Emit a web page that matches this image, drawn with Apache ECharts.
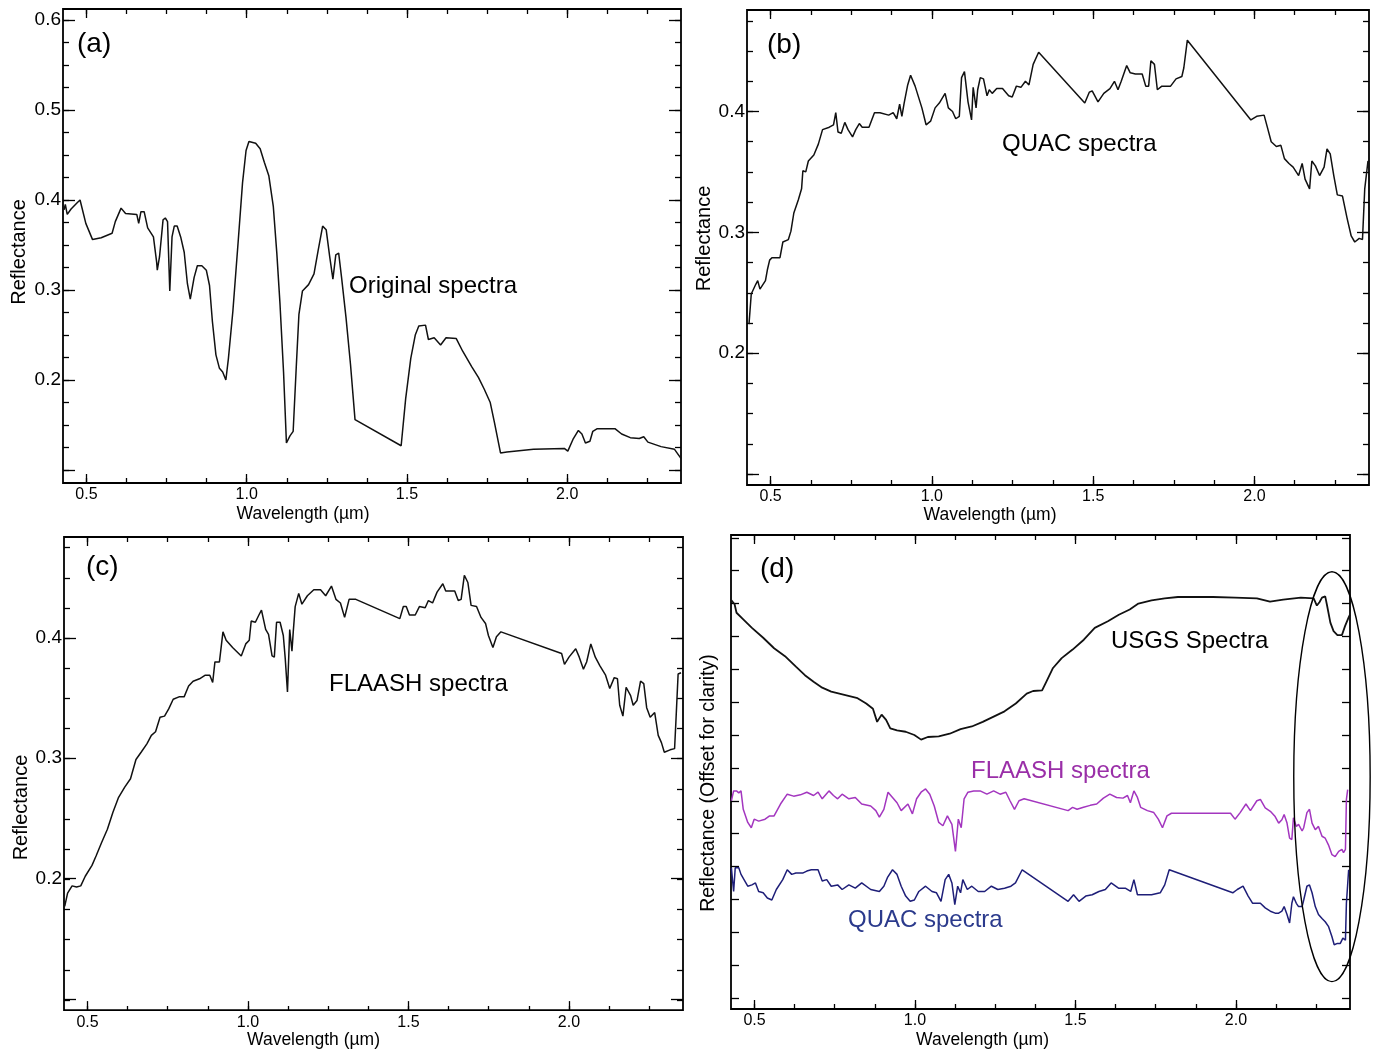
<!DOCTYPE html>
<html>
<head>
<meta charset="utf-8">
<title>Reflectance spectra</title>
<script src="https://cdn.jsdelivr.net/npm/echarts@6/dist/echarts.min.js"></script>
<style>
  html, body { margin: 0; padding: 0; background: #fff; }
  #chart { width: 1373px; height: 1050px; }
</style>
</head>
<body>
<div id="chart"></div>
<script>
// ---------- spectra (wavelength in µm, reflectance) ----------
const origWl = [
  0.430,0.434,0.440,0.452,0.471,0.480,0.498,0.519,0.546,0.580,
  0.590,0.608,0.622,0.657,0.663,0.670,0.680,0.691,0.709,0.719,
  0.721,0.728,0.739,0.746,0.753,0.760,0.767,0.774,0.783,0.794,
  0.805,0.815,0.824,0.836,0.846,0.860,0.874,0.884,0.893,0.904,
  0.915,0.925,0.935,0.943,0.957,0.973,0.987,0.998,1.007,1.028,
  1.042,1.055,1.069,1.083,1.094,1.104,1.115,1.124,1.135,1.145,
  1.155,1.163,1.174,1.193,1.210,1.223,1.237,1.248,1.259,1.269,
  1.278,1.287,1.296,1.310,1.324,1.338,1.482,1.496,1.512,1.526,
  1.537,1.558,1.567,1.585,1.605,1.622,1.654,1.674,1.702,1.723,
  1.741,1.760,1.773,1.792,1.812,1.895,1.991,2.002,2.018,2.035,
  2.046,2.057,2.071,2.080,2.094,2.149,2.170,2.197,2.225,2.239,
  2.252,2.293,2.335,2.355];
const origRefl = [
  0.389,0.395,0.384,0.390,0.397,0.400,0.374,0.356,0.358,0.363,
  0.376,0.391,0.385,0.384,0.374,0.387,0.387,0.369,0.359,0.331,
  0.322,0.337,0.378,0.380,0.376,0.299,0.359,0.371,0.371,0.359,
  0.342,0.307,0.290,0.314,0.327,0.327,0.322,0.305,0.265,0.228,
  0.213,0.209,0.200,0.224,0.277,0.352,0.419,0.455,0.465,0.463,
  0.457,0.442,0.427,0.393,0.341,0.284,0.209,0.130,0.138,0.143,
  0.217,0.273,0.299,0.306,0.318,0.344,0.371,0.367,0.337,0.312,
  0.339,0.341,0.314,0.269,0.217,0.156,0.127,0.179,0.224,0.250,
  0.260,0.261,0.245,0.247,0.239,0.247,0.246,0.232,0.215,0.203,
  0.190,0.175,0.153,0.119,0.120,0.123,0.124,0.121,0.134,0.144,
  0.140,0.130,0.132,0.143,0.146,0.146,0.140,0.136,0.135,0.137,
  0.131,0.126,0.123,0.113];

const quacWl = [
  0.433,0.440,0.446,0.454,0.460,0.467,0.484,0.490,0.497,0.504,
  0.529,0.538,0.555,0.563,0.572,0.586,0.596,0.600,0.609,0.617,
  0.634,0.648,0.661,0.682,0.695,0.702,0.709,0.719,0.730,0.740,
  0.754,0.764,0.775,0.784,0.805,0.822,0.839,0.866,0.880,0.891,
  0.900,0.907,0.914,0.925,0.934,0.948,0.969,0.982,0.996,1.010,
  1.023,1.041,1.051,1.064,1.074,1.085,1.092,1.101,1.112,1.123,
  1.128,1.137,1.142,1.150,1.160,1.171,1.178,1.187,1.201,1.219,
  1.238,1.249,1.262,1.276,1.290,1.301,1.314,1.331,1.337,1.474,
  1.488,1.497,1.515,1.533,1.552,1.566,1.577,1.587,1.604,1.615,
  1.631,1.652,1.663,1.672,1.679,1.690,1.699,1.713,1.740,1.757,
  1.775,1.781,1.792,1.989,2.007,2.030,2.041,2.052,2.068,2.082,
  2.093,2.107,2.120,2.137,2.148,2.157,2.171,2.178,2.189,2.202,
  2.216,2.225,2.235,2.246,2.257,2.273,2.287,2.300,2.311,2.325,
  2.335,2.342,2.352,2.355];
const quacRefl = [
  0.224,0.249,0.249,0.257,0.260,0.253,0.260,0.269,0.277,0.279,
  0.279,0.292,0.294,0.301,0.316,0.327,0.336,0.351,0.350,0.359,
  0.364,0.373,0.385,0.387,0.389,0.399,0.383,0.382,0.391,0.385,
  0.379,0.385,0.390,0.387,0.387,0.399,0.399,0.397,0.399,0.394,
  0.406,0.396,0.407,0.422,0.430,0.421,0.403,0.389,0.392,0.403,
  0.407,0.415,0.403,0.400,0.394,0.396,0.428,0.433,0.408,0.393,
  0.420,0.403,0.418,0.428,0.427,0.413,0.418,0.415,0.419,0.419,
  0.413,0.412,0.421,0.420,0.425,0.422,0.439,0.449,0.450,0.407,
  0.416,0.417,0.408,0.415,0.419,0.425,0.418,0.425,0.438,0.432,
  0.431,0.431,0.421,0.421,0.442,0.439,0.418,0.421,0.421,0.427,
  0.429,0.436,0.459,0.393,0.396,0.397,0.386,0.375,0.371,0.372,
  0.361,0.357,0.354,0.347,0.357,0.344,0.336,0.359,0.355,0.347,
  0.354,0.369,0.365,0.347,0.331,0.330,0.312,0.297,0.292,0.295,
  0.294,0.336,0.359,0.358];

const flaashWl = [
  0.429,0.438,0.452,0.466,0.479,0.493,0.514,0.527,0.544,0.562,
  0.579,0.596,0.616,0.634,0.651,0.667,0.685,0.699,0.712,0.726,
  0.740,0.753,0.767,0.785,0.801,0.815,0.829,0.849,0.867,0.881,
  0.890,0.897,0.911,0.922,0.932,0.952,0.979,0.993,1.004,1.010,
  1.023,1.034,1.042,1.055,1.064,1.075,1.082,1.089,1.100,1.110,
  1.116,1.123,1.130,1.137,1.141,1.147,1.158,1.168,1.185,1.205,
  1.226,1.242,1.260,1.274,1.288,1.301,1.315,1.336,1.473,1.484,
  1.493,1.503,1.521,1.534,1.552,1.562,1.575,1.589,1.607,1.616,
  1.644,1.655,1.664,1.674,1.685,1.695,1.712,1.726,1.740,1.749,
  1.763,1.774,1.788,1.977,1.986,2.000,2.021,2.032,2.045,2.055,
  2.068,2.082,2.096,2.114,2.127,2.141,2.151,2.158,2.168,2.178,
  2.192,2.200,2.212,2.223,2.233,2.242,2.253,2.267,2.278,2.288,
  2.297,2.315,2.329,2.333,2.340,2.349];
const flaashRefl = [
  0.177,0.188,0.194,0.193,0.194,0.202,0.211,0.219,0.230,0.241,
  0.255,0.267,0.276,0.283,0.299,0.305,0.312,0.319,0.322,0.334,
  0.335,0.341,0.349,0.351,0.351,0.360,0.364,0.366,0.369,0.369,
  0.363,0.380,0.380,0.405,0.398,0.392,0.385,0.395,0.398,0.414,
  0.413,0.419,0.423,0.407,0.403,0.385,0.384,0.413,0.413,0.402,
  0.383,0.355,0.407,0.389,0.405,0.426,0.437,0.428,0.435,0.440,
  0.440,0.435,0.443,0.432,0.429,0.417,0.432,0.432,0.416,0.426,
  0.426,0.419,0.419,0.426,0.425,0.431,0.429,0.438,0.445,0.439,
  0.439,0.431,0.432,0.452,0.446,0.427,0.426,0.417,0.412,0.402,
  0.392,0.401,0.405,0.387,0.378,0.384,0.391,0.384,0.374,0.380,
  0.395,0.384,0.377,0.369,0.358,0.367,0.366,0.344,0.335,0.359,
  0.352,0.344,0.348,0.364,0.362,0.342,0.334,0.338,0.319,0.313,
  0.305,0.307,0.308,0.330,0.370,0.371];

// offset reflectance for the comparison panel
const usgsWl = [
  0.428,0.438,0.444,0.465,0.492,0.527,0.561,0.595,0.629,0.657,
  0.684,0.711,0.739,0.780,0.821,0.848,0.869,0.882,0.896,0.910,
  0.923,0.944,0.971,0.998,1.019,1.040,1.074,1.108,1.142,1.177,
  1.211,1.245,1.279,1.314,1.348,1.368,1.396,1.409,1.430,1.457,
  1.491,1.526,1.560,1.601,1.635,1.669,1.696,1.737,1.778,1.819,
  1.874,1.928,1.997,2.065,2.106,2.147,2.202,2.242,2.252,2.260,
  2.268,2.278,2.283,2.294,2.304,2.316,2.330,2.340,2.351,2.355];
const usgsOffset = [
  0.705,0.699,0.686,0.676,0.663,0.648,0.632,0.620,0.604,0.591,
  0.581,0.572,0.566,0.561,0.556,0.548,0.540,0.520,0.531,0.523,
  0.510,0.507,0.505,0.500,0.493,0.497,0.498,0.502,0.509,0.513,
  0.520,0.528,0.536,0.548,0.563,0.567,0.568,0.581,0.602,0.617,
  0.630,0.645,0.663,0.673,0.683,0.691,0.700,0.705,0.708,0.710,
  0.710,0.710,0.709,0.708,0.703,0.706,0.709,0.708,0.697,0.702,
  0.709,0.711,0.699,0.671,0.658,0.652,0.652,0.666,0.679,0.683];

const flaashOffWl = [
  0.428,0.435,0.444,0.451,0.458,0.465,0.479,0.490,0.499,0.513,
  0.533,0.547,0.561,0.581,0.602,0.622,0.643,0.663,0.684,0.698,
  0.711,0.732,0.746,0.759,0.773,0.794,0.814,0.834,0.862,0.878,
  0.889,0.903,0.916,0.930,0.944,0.957,0.978,0.992,1.005,1.019,
  1.033,1.046,1.060,1.074,1.087,1.101,1.115,1.126,1.135,1.144,
  1.153,1.165,1.183,1.203,1.224,1.245,1.265,1.283,1.296,1.310,
  1.324,1.340,1.477,1.491,1.505,1.525,1.546,1.566,1.587,1.607,
  1.628,1.648,1.662,1.671,1.682,1.693,1.703,1.724,1.744,1.758,
  1.771,1.785,1.799,1.983,1.997,2.013,2.031,2.045,2.065,2.076,
  2.091,2.107,2.122,2.133,2.143,2.150,2.159,2.167,2.174,2.179,
  2.188,2.195,2.206,2.211,2.221,2.229,2.237,2.247,2.257,2.268,
  2.278,2.288,2.299,2.309,2.320,2.330,2.335,2.341,2.344,2.348];
const flaashOffset = [
  0.400,0.415,0.415,0.412,0.415,0.387,0.367,0.359,0.372,0.369,
  0.372,0.377,0.377,0.395,0.410,0.407,0.409,0.413,0.408,0.413,
  0.403,0.415,0.408,0.403,0.410,0.403,0.405,0.395,0.392,0.385,
  0.375,0.387,0.413,0.405,0.397,0.385,0.395,0.380,0.403,0.413,
  0.418,0.410,0.392,0.367,0.362,0.377,0.364,0.323,0.372,0.359,
  0.403,0.413,0.415,0.415,0.410,0.415,0.410,0.413,0.400,0.387,
  0.400,0.403,0.385,0.390,0.387,0.390,0.393,0.395,0.404,0.410,
  0.405,0.404,0.408,0.397,0.415,0.405,0.390,0.385,0.382,0.372,
  0.359,0.377,0.381,0.381,0.372,0.382,0.395,0.385,0.400,0.402,
  0.389,0.384,0.376,0.366,0.371,0.379,0.366,0.343,0.341,0.374,
  0.361,0.364,0.354,0.359,0.382,0.387,0.366,0.356,0.361,0.346,
  0.343,0.333,0.318,0.315,0.323,0.326,0.321,0.326,0.402,0.417];

const quacOffWl = [
  0.428,0.435,0.440,0.451,0.458,0.479,0.492,0.503,0.513,0.527,
  0.540,0.554,0.568,0.588,0.602,0.616,0.629,0.650,0.663,0.677,
  0.698,0.711,0.725,0.739,0.759,0.773,0.794,0.814,0.834,0.862,
  0.889,0.903,0.914,0.930,0.944,0.957,0.971,0.985,0.998,1.012,
  1.033,1.053,1.067,1.081,1.094,1.105,1.115,1.124,1.133,1.142,
  1.149,1.163,1.177,1.197,1.217,1.238,1.258,1.279,1.299,1.313,
  1.334,1.477,1.494,1.511,1.532,1.552,1.573,1.593,1.611,1.634,
  1.655,1.672,1.682,1.693,1.710,1.737,1.764,1.778,1.792,1.990,
  2.004,2.022,2.038,2.052,2.076,2.091,2.107,2.122,2.133,2.143,
  2.150,2.159,2.167,2.174,2.179,2.188,2.195,2.206,2.211,2.221,
  2.229,2.237,2.247,2.257,2.268,2.278,2.288,2.299,2.306,2.316,
  2.325,2.333,2.341,2.344,2.351];
const quacOffset = [
  0.298,0.262,0.298,0.298,0.288,0.270,0.272,0.275,0.262,0.260,
  0.252,0.249,0.265,0.280,0.295,0.288,0.290,0.290,0.293,0.295,
  0.295,0.278,0.280,0.270,0.272,0.265,0.272,0.267,0.275,0.265,
  0.262,0.270,0.283,0.295,0.288,0.270,0.255,0.247,0.249,0.262,
  0.270,0.262,0.260,0.247,0.280,0.288,0.275,0.242,0.270,0.260,
  0.280,0.265,0.270,0.262,0.262,0.270,0.265,0.267,0.270,0.275,
  0.295,0.247,0.257,0.247,0.255,0.257,0.262,0.265,0.275,0.267,
  0.267,0.262,0.280,0.257,0.257,0.257,0.260,0.272,0.295,0.260,
  0.265,0.270,0.255,0.244,0.244,0.237,0.232,0.229,0.229,0.232,
  0.239,0.227,0.214,0.244,0.254,0.244,0.239,0.239,0.249,0.270,
  0.272,0.260,0.239,0.227,0.221,0.216,0.209,0.193,0.181,0.183,
  0.183,0.191,0.188,0.244,0.295];

// ---------- tick values ----------
const X_MIN = 0.4268, X_MAX = 2.3552;
const xMajorTicks = [0.5, 1.0, 1.5, 2.0];
const xMinorTicks = [0.5, 0.625, 0.75, 0.875, 1.0, 1.125, 1.25, 1.375, 1.5, 1.625, 1.75, 1.875, 2.0, 2.125, 2.25];
const yMajorTicksA = [0.1, 0.2, 0.3, 0.4, 0.5, 0.6];
const yLabelTicksA = [0.2, 0.3, 0.4, 0.5, 0.6];
const yMinorTicksA = [0.1, 0.125, 0.15, 0.175, 0.2, 0.225, 0.25, 0.275, 0.3, 0.325, 0.35, 0.375,
                      0.4, 0.425, 0.45, 0.475, 0.5, 0.525, 0.55, 0.575, 0.6];
const yMajorTicksBC = [0.1, 0.2, 0.3, 0.4];
const yLabelTicksBC = [0.2, 0.3, 0.4];
const yMinorTicksBC = [0.1, 0.125, 0.15, 0.175, 0.2, 0.225, 0.25, 0.275, 0.3, 0.325, 0.35, 0.375,
                       0.4, 0.425, 0.45, 0.475];
const yTicksD = [0.1, 0.15, 0.2, 0.25, 0.3, 0.35, 0.4, 0.45, 0.5, 0.55, 0.6, 0.65, 0.7, 0.75, 0.8];

// ---------- layout ----------
const FONT = "'Liberation Sans', Arial, Helvetica, sans-serif";
const BLACK = '#000';
const PURPLE = '#a336bf';
const NAVY = '#1e1e78';

// yNamePad shifts the rotated axis title along the axis; xNamePad shifts the wavelength title left
const panels = [
  { box: { left: 63,  top: 9,   width: 618, height: 474 }, yMin: 0.0856, yMax: 0.6122,
    yMajor: yMajorTicksA, yLabels: yLabelTicksA, yMinor: yMinorTicksA,
    yName: 'Reflectance', yNameGap: 34, yNameSize: 20, yNamePad: [0, 12, 0, 0],
    xNameGap: 22, xNamePad: [0, 138, 0, 0] },
  { box: { left: 747, top: 10,  width: 622, height: 475 }, yMin: 0.0909, yMax: 0.4840,
    yMajor: yMajorTicksBC, yLabels: yLabelTicksBC, yMinor: yMinorTicksBC,
    yName: 'Reflectance', yNameGap: 32, yNameSize: 20, yNamePad: [0, 0, 0, 18],
    xNameGap: 21, xNamePad: [0, 136, 0, 0] },
  { box: { left: 64,  top: 537, width: 619, height: 474 }, yMin: 0.0908, yMax: 0.4838,
    yMajor: yMajorTicksBC, yLabels: yLabelTicksBC, yMinor: yMinorTicksBC,
    yName: 'Reflectance', yNameGap: 33, yNameSize: 20, yNamePad: [0, 68, 0, 0],
    xNameGap: 20, xNamePad: [0, 120, 0, 0] },
  { box: { left: 731, top: 535, width: 619, height: 474 }, yMin: 0.0832, yMax: 0.8043,
    yMajor: yTicksD, yLabels: [], yMinor: [],
    yName: 'Reflectance (Offset for clarity)', yNameGap: 12, yNameSize: 19.5, yNamePad: [0, 22, 0, 0],
    xNameGap: 22, xNamePad: [0, 116, 0, 0] }
];

function checkPair(a, b, name) {
  if (a.length !== b.length) throw new Error(name + ': ' + a.length + ' vs ' + b.length);
  return a.map((x, i) => [x, b[i]]);
}

const grids = [], xAxes = [], yAxes = [];
const tick = (vals, len) => ({ show: vals.length > 0, inside: true, length: len,
  customValues: vals, lineStyle: { color: BLACK, width: 1.3 } });
const noLabel = { show: false };

panels.forEach((p, k) => {
  // frame grid carries the series, the major ticks and the labels
  grids.push(Object.assign({ show: true, borderColor: BLACK, borderWidth: 1.8,
    backgroundColor: 'transparent' }, p.box));
  // overlay grid carries only the short minor ticks
  grids.push(Object.assign({ show: false }, p.box));
  const g0 = 2 * k, g1 = 2 * k + 1;
  const xBase = { type: 'value', min: X_MIN, max: X_MAX, axisLine: { show: false },
    splitLine: { show: false } };
  const yBase = { type: 'value', min: p.yMin, max: p.yMax, axisLine: { show: false },
    splitLine: { show: false } };

  xAxes.push(Object.assign({}, xBase, { gridIndex: g0, position: 'bottom',
    axisTick: tick(xMajorTicks, 9),
    axisLabel: { show: true, customValues: xMajorTicks, formatter: v => v.toFixed(1),
      margin: 4, fontSize: 16, color: BLACK, fontFamily: FONT },
    name: 'Wavelength (µm)', nameLocation: 'middle', nameGap: p.xNameGap,
    nameTextStyle: { fontSize: 17.5, color: BLACK, fontFamily: FONT, padding: p.xNamePad } }));
  xAxes.push(Object.assign({}, xBase, { gridIndex: g0, position: 'top',
    axisTick: tick(xMajorTicks, 9), axisLabel: noLabel }));
  xAxes.push(Object.assign({}, xBase, { gridIndex: g1, position: 'bottom',
    axisTick: tick(xMinorTicks, 5), axisLabel: noLabel }));
  xAxes.push(Object.assign({}, xBase, { gridIndex: g1, position: 'top',
    axisTick: tick(xMinorTicks, 5), axisLabel: noLabel }));

  const majorLen = p.yMinor.length ? 12 : 8;
  yAxes.push(Object.assign({}, yBase, { gridIndex: g0, position: 'left',
    axisTick: tick(p.yMajor, majorLen),
    axisLabel: { show: p.yLabels.length > 0, customValues: p.yLabels,
      formatter: v => v.toFixed(1), margin: 2, fontSize: 19, color: BLACK, fontFamily: FONT },
    name: p.yName, nameLocation: 'middle', nameGap: p.yNameGap,
    nameTextStyle: { fontSize: p.yNameSize, color: BLACK, fontFamily: FONT, padding: p.yNamePad } }));
  yAxes.push(Object.assign({}, yBase, { gridIndex: g0, position: 'right',
    axisTick: tick(p.yMajor, majorLen), axisLabel: noLabel }));
  yAxes.push(Object.assign({}, yBase, { gridIndex: g1, position: 'left',
    axisTick: tick(p.yMinor, 6), axisLabel: noLabel }));
  yAxes.push(Object.assign({}, yBase, { gridIndex: g1, position: 'right',
    axisTick: tick(p.yMinor, 6), axisLabel: noLabel }));
});

function spectrum(panelIndex, data, color, width) {
  return { type: 'line', xAxisIndex: 4 * panelIndex, yAxisIndex: 4 * panelIndex,
    data: data, showSymbol: false, symbol: 'none', silent: true, animation: false,
    lineStyle: { color: color, width: width } };
}

const series = [
  spectrum(0, checkPair(origWl, origRefl, 'original'), '#111', 1.5),
  spectrum(1, checkPair(quacWl, quacRefl, 'quac'), '#111', 1.5),
  spectrum(2, checkPair(flaashWl, flaashRefl, 'flaash'), '#111', 1.5),
  spectrum(3, checkPair(usgsWl, usgsOffset, 'usgs'), '#111', 1.8),
  spectrum(3, checkPair(flaashOffWl, flaashOffset, 'flaash offset'), PURPLE, 1.5),
  spectrum(3, checkPair(quacOffWl, quacOffset, 'quac offset'), NAVY, 1.5)
];

function label(id, text, x, y, size, color) {
  return { type: 'text', id: id, x: x, y: y, silent: true, z: 10,
    style: { text: text, fill: color, fontSize: size, fontFamily: FONT,
      align: 'left', verticalAlign: 'middle' } };
}

const texts = [
  label('la', '(a)', 77, 44, 28, BLACK),
  label('lb', '(b)', 767, 45, 28, BLACK),
  label('lc', '(c)', 86, 567, 28, BLACK),
  label('ld', '(d)', 760, 569, 28, BLACK),
  label('t1', 'Original spectra', 349, 286, 24, BLACK),
  label('t2', 'QUAC spectra', 1002, 144, 24, BLACK),
  label('t3', 'FLAASH spectra', 329, 684, 24, BLACK),
  label('t4', 'USGS Spectra', 1111, 641, 24, BLACK),
  label('t5', 'FLAASH spectra', 971, 771, 24, '#9a2fa8'),
  label('t6', 'QUAC spectra', 848, 920, 24, '#2b3a8c')
];

const chart = echarts.init(document.getElementById('chart'), null, { renderer: 'canvas' });
chart.setOption({
  animation: false,
  backgroundColor: '#fff',
  grid: grids,
  xAxis: xAxes,
  yAxis: yAxes,
  series: series,
  graphic: { elements: texts }
});

// ellipse marking the 2.2–2.35 µm absorption feature, given in data units of panel (d)
const featureCenter = [2.299, 0.4366];
const featureHalf = [0.119, 0.3117];
const finder = { xAxisIndex: 12, yAxisIndex: 12 };
const c = chart.convertToPixel(finder, featureCenter);
const e = chart.convertToPixel(finder, [featureCenter[0] + featureHalf[0], featureCenter[1] + featureHalf[1]]);
chart.setOption({
  graphic: { elements: [{ type: 'ellipse', id: 'feature', silent: true, z: 9,
    shape: { cx: c[0], cy: c[1], rx: Math.abs(e[0] - c[0]), ry: Math.abs(c[1] - e[1]) },
    style: { fill: 'none', stroke: BLACK, lineWidth: 1.4 } }] }
});
</script>
</body>
</html>
